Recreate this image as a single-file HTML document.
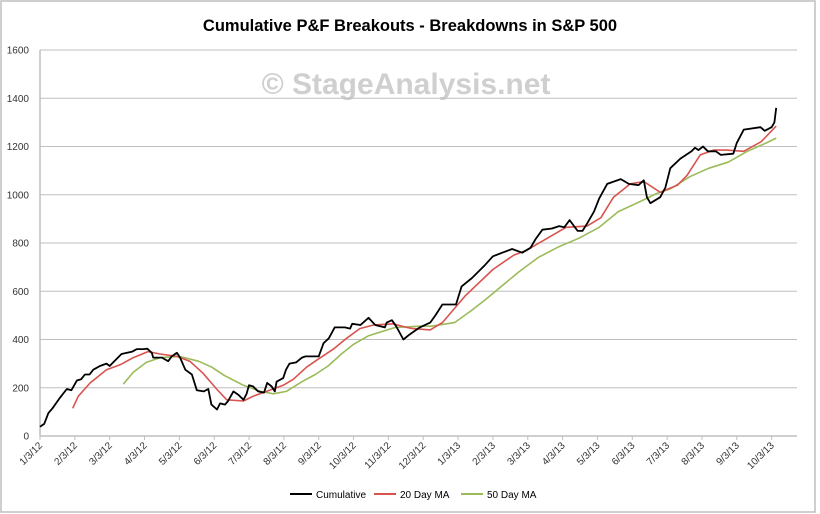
<!DOCTYPE html>
<html><head><meta charset="utf-8"><style>
body{margin:0;background:#fff;}
svg{display:block;font-family:"Liberation Sans",sans-serif;}
</style></head><body>
<svg id="chart" width="820" height="514" viewBox="0 0 820 514">
<rect x="1" y="1" width="814" height="511" fill="#fff" stroke="#bfbfbf" stroke-width="1.5"/>
<text x="410" y="31" text-anchor="middle" font-size="16.5" font-weight="bold" fill="#000">Cumulative P&amp;F Breakouts - Breakdowns in S&amp;P 500</text>
<text x="406" y="94" text-anchor="middle" font-size="30" font-weight="bold" fill="#cfcfcf">© StageAnalysis.net</text>
<g id="grid"></g>
<g id="yaxis"></g>
<g id="xaxis"></g>
<g id="series"></g>
<g id="legend">
<line x1="290" y1="494" x2="312" y2="494" stroke="#000" stroke-width="2"/>
<text x="316" y="498" font-size="10" fill="#000">Cumulative</text>
<line x1="374" y1="494" x2="396" y2="494" stroke="#d9534f" stroke-width="2"/>
<text x="400" y="498" font-size="10" fill="#000">20 Day MA</text>
<line x1="461" y1="494" x2="483" y2="494" stroke="#9bbb59" stroke-width="2"/>
<text x="487" y="498" font-size="10" fill="#000">50 Day MA</text>
</g>
</svg>
<script>
const xTickLabels=["1/3/12","2/3/12","3/3/12","4/3/12","5/3/12","6/3/12","7/3/12","8/3/12","9/3/12","10/3/12","11/3/12","12/3/12","1/3/13","2/3/13","3/3/13","4/3/13","5/3/13","6/3/13","7/3/13","8/3/13","9/3/13","10/3/13"];
const yTicks=[0,200,400,600,800,1000,1200,1400,1600];
// x values in months since 1/3/12
const cumX=[0,0.12,0.24,0.36,0.58,0.77,0.9,1.06,1.18,1.29,1.42,1.53,1.72,1.91,2.0,2.1,2.34,2.5,2.65,2.78,2.98,3.08,3.21,3.25,3.5,3.68,3.78,3.93,4.02,4.17,4.36,4.5,4.7,4.83,4.92,5.08,5.17,5.31,5.4,5.55,5.7,5.84,5.93,6.0,6.12,6.26,6.43,6.52,6.65,6.74,6.79,6.98,7.06,7.16,7.35,7.52,7.62,8.0,8.14,8.29,8.46,8.75,8.9,8.96,9.2,9.43,9.62,9.9,9.95,10.1,10.22,10.43,10.6,10.7,10.9,11.2,11.35,11.55,11.94,12.1,12.4,12.78,13.0,13.27,13.55,13.84,14.08,14.22,14.42,14.7,14.9,15.05,15.2,15.43,15.57,15.7,15.9,16.05,16.28,16.67,16.9,17.18,17.33,17.42,17.52,17.8,17.95,18.09,18.38,18.7,18.8,18.9,19.03,19.17,19.4,19.54,19.9,20.0,20.2,20.68,20.8,21.0,21.08,21.13];
const cumulative=[38,50,95,115,160,195,190,230,235,255,255,275,290,300,290,305,340,345,350,360,360,362,345,325,325,310,330,345,325,275,255,190,185,195,130,110,135,130,145,185,170,150,175,210,205,185,180,220,205,185,225,240,275,300,305,325,330,330,385,405,450,450,445,465,460,490,460,450,470,480,455,400,420,430,450,470,500,545,545,620,655,710,745,760,775,760,780,815,855,860,870,865,895,850,850,880,930,985,1045,1065,1045,1040,1060,990,965,990,1030,1110,1150,1180,1195,1185,1200,1180,1180,1165,1170,1215,1270,1280,1265,1280,1300,1360];
const ma20X=[0.94,1.1,1.44,1.91,2.3,2.68,3.1,3.45,3.93,4.3,4.68,5.07,5.36,5.84,6.12,6.5,6.98,7.27,7.65,8.0,8.42,8.8,9.18,9.57,10.14,10.52,10.7,11.2,11.55,12.2,13.0,13.6,13.97,14.5,15.1,15.7,16.1,16.46,16.94,17.33,17.8,18.3,18.57,18.95,19.33,19.7,20.2,20.7,21.13];
const ma20=[115,165,220,275,295,325,350,340,330,310,260,195,150,145,165,185,210,235,285,320,360,405,445,460,465,450,445,440,470,580,690,750,770,815,865,870,905,990,1045,1055,1010,1040,1080,1165,1185,1185,1180,1220,1285];
const ma50X=[2.39,2.68,3.05,3.45,4.0,4.55,4.93,5.3,5.84,6.33,6.7,7.07,7.52,7.9,8.27,8.65,9.0,9.42,9.85,10.2,10.9,11.23,11.9,12.38,12.78,13.2,13.74,14.3,14.9,15.47,16.05,16.6,17.2,17.7,18.1,18.65,19.2,19.75,20.3,20.85,21.13];
const ma50=[215,265,305,325,330,310,285,250,210,185,175,185,225,255,290,340,380,415,435,450,455,455,470,520,565,615,680,740,785,820,865,930,970,1005,1025,1075,1110,1135,1180,1215,1235];

const L=40,R=797,T=50,B=436,YMAX=1600,MW=34.84;
const xs=m=>L+m*MW;
const ys=v=>B-(v/YMAX)*(B-T);
const NS="http://www.w3.org/2000/svg";
function mk(tag,parent){const e=document.createElementNS(NS,tag);parent.appendChild(e);return e;}
const grid=document.getElementById('grid'),ya=document.getElementById('yaxis'),xa=document.getElementById('xaxis'),ser=document.getElementById('series');
yTicks.forEach(v=>{
  const y=ys(v);
  const g=mk('line',grid);
  g.setAttribute('x1',L);g.setAttribute('x2',R);g.setAttribute('y1',y);g.setAttribute('y2',y);
  g.setAttribute('stroke','#bfbfbf');g.setAttribute('stroke-width','1');
  
  
  const t=mk('text',ya);
  t.setAttribute('x',L-11);t.setAttribute('y',y+3.5);t.setAttribute('text-anchor','end');t.setAttribute('font-size','10');t.setAttribute('fill','#333');
  t.textContent=v;
  
  
});
const ax=mk('line',xa);
ax.setAttribute('x1',L);ax.setAttribute('x2',R);ax.setAttribute('y1',B);ax.setAttribute('y2',B);ax.setAttribute('stroke','#bfbfbf');ax.setAttribute('stroke-width','1.5');


const yl=mk('line',ya);
yl.setAttribute('x1',L);yl.setAttribute('x2',L);yl.setAttribute('y1',T);yl.setAttribute('y2',B);yl.setAttribute('stroke','#bfbfbf');yl.setAttribute('stroke-width','1.5');


xTickLabels.forEach((lab,i)=>{
  const x=xs(i);
  const tk=mk('line',xa);
  tk.setAttribute('x1',x);tk.setAttribute('x2',x);tk.setAttribute('y1',B);tk.setAttribute('y2',B+4);tk.setAttribute('stroke','#bfbfbf');
  
  
  const t=mk('text',xa);
  t.setAttribute('x',x+3);t.setAttribute('y',B+10);t.setAttribute('text-anchor','end');t.setAttribute('font-size','10');t.setAttribute('fill','#333');
  t.setAttribute('transform','rotate(-45 '+(x+3)+' '+(B+10)+')');
  t.textContent=lab;
  
  
});
function line(X,V,color,w,name){
  const p=mk('path',ser);
  p.setAttribute('d',X.map((m,i)=>(i?'L':'M')+xs(m).toFixed(1)+' '+ys(V[i]).toFixed(1)).join(' '));
  p.setAttribute('fill','none');p.setAttribute('stroke',color);p.setAttribute('stroke-width',w);p.setAttribute('stroke-linejoin','round');
  
  
}
line(ma50X,ma50,'#9bbb59',1.6,'series-50-day-ma');
line(ma20X,ma20,'#d9534f',1.6,'series-20-day-ma');
line(cumX,cumulative,'#000',1.8,'series-cumulative');
</script>
</body></html>
